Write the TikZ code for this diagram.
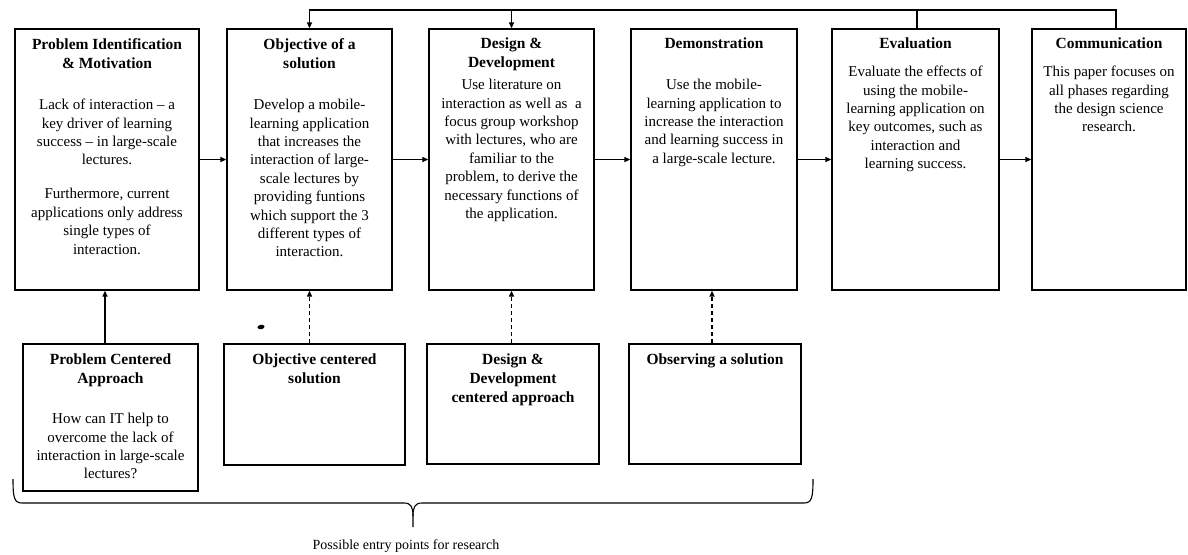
\documentclass[tikz,border=0pt]{standalone}
\usepackage{fontspec}
\setmainfont{Liberation Serif}
\usetikzlibrary{arrows.meta}
\begin{document}
\begin{tikzpicture}[x=1pt,y=-1pt,
  box/.style={draw, line width=1.3pt, inner sep=0pt},
  ttl/.style={anchor=north, inner sep=0pt, align=center, font=\fontsize{15.5}{19}\selectfont\bfseries},
  txt/.style={anchor=north, inner sep=0pt, align=center, font=\fontsize{15}{18.4}\selectfont},
  arr/.style={line width=1.2pt, -{Triangle[length=6pt,width=5pt]}},
  darr/.style={arr, dash pattern=on 4pt off 3pt},
  fbline/.style={line width=2pt},
]
\useasboundingbox (0,0) rectangle (1188,554);

% top boxes
\node[box, minimum width=184pt, minimum height=261pt] (T1) at (107,159.5) {};
\node[box, minimum width=165pt, minimum height=261pt] (T2) at (309.5,159.5) {};
\node[box, minimum width=165pt, minimum height=261pt] (T3) at (511.5,159.5) {};
\node[box, minimum width=166pt, minimum height=261pt] (T4) at (714,159.5) {};
\node[box, minimum width=167pt, minimum height=261pt] (T5) at (915.5,159.5) {};
\node[box, minimum width=154pt, minimum height=261pt] (T6) at (1109,159.5) {};

% bottom boxes
\node[box, minimum width=175pt, minimum height=147pt] (B1) at (110.5,417.5) {};
\node[box, minimum width=181pt, minimum height=121pt] (B2) at (314.5,404.5) {};
\node[box, minimum width=172pt, minimum height=120pt] (B3) at (513,404) {};
\node[box, minimum width=172pt, minimum height=120pt] (B4) at (715,404) {};

% texts top
\node[ttl] (t1h) at (107,38) {Problem Identification\\\& Motivation};
\node[txt] (t1b) at (107,99) {Lack of interaction -- a\\key driver of learning\\success -- in large-scale\\lectures.\\[15.6pt]Furthermore, current\\applications only address\\single types of\\interaction.};
\node[ttl] (t2h) at (309.5,38) {Objective of a\\solution};
\node[txt] (t2b) at (309.5,99) {Develop a mobile-\\learning application\\that increases the\\interaction of large-\\scale lectures by\\providing funtions\\which support the 3\\different types of\\interaction.};
\node[ttl] (t3h) at (511.5,38) {Design \&\\Development};
\node[txt] (t3b) at (511.5,79) {Use literature on\\interaction as well as~ a\\focus group workshop\\with lectures, who are\\familiar to the\\problem, to derive the\\necessary functions of\\the application.};
\node[ttl] (t4h) at (714,38) {Demonstration};
\node[txt] (t4b) at (714,79) {Use the mobile-\\learning application to\\increase the interaction\\and learning success in\\a large-scale lecture.};
\node[ttl] (t5h) at (915.5,38) {Evaluation};
\node[txt] (t5b) at (915.5,66) {Evaluate the effects of\\using the mobile-\\learning application on\\key outcomes, such as\\interaction and\\learning success.};
\node[ttl] (t6h) at (1109,38) {Communication};
\node[txt] (t6b) at (1109,66) {This paper focuses on\\all phases regarding\\the design science\\research.};

% texts bottom
\node[ttl] (b1h) at (110.5,354) {Problem Centered\\Approach};
\node[txt] (b1b) at (110.5,413) {How can IT help to\\overcome the lack of\\interaction in large-scale\\lectures?};
\node[ttl] (b2h) at (314.5,354) {Objective centered\\solution};
\node[ttl] (b3h) at (513,354) {Design \&\\Development\\centered approach};
\node[ttl] (b4h) at (715,354) {Observing a solution};

% horizontal arrows
\draw[arr] (T1.east) -- (T2.west);
\draw[arr] (T2.east) -- (T3.west);
\draw[arr] (T3.east) -- (T4.west);
\draw[arr] (T4.east) -- (T5.west);
\draw[arr] (T5.east) -- (T6.west);

% vertical arrows from bottom boxes
\draw[arr] ([xshift=-5.5pt]B1.north) -- ([xshift=-5.5pt]B1.north |- T1.south);
\draw[darr] (T2.south |- B2.north) -- (T2.south);
\draw[darr] (T3.south |- B3.north) -- (T3.south);
\draw[darr, line width=2.4pt] ([xshift=-2pt]T4.south |- B4.north) -- ([xshift=-2pt]T4.south);

% feedback line
\coordinate (fb) at (0,10);
\draw[fbline, line cap=rect] ([xshift=7pt]T6.north) -- ([xshift=7pt]T6.north |- fb) -- (T2.north |- fb);
\draw[fbline] ([xshift=1.5pt]T5.north) -- ([xshift=1.5pt]T5.north |- fb);
\draw[arr, line width=1.6pt] (T2.north |- fb) -- (T2.north);
\draw[arr, line width=1.6pt] (T3.north |- fb) -- (T3.north);

% stray mark
\fill[rotate around={10:(261,327)}] (261,327) ellipse [x radius=3.6pt, y radius=2.2pt];

% brace
\coordinate (brtip) at (413,527);
\draw[line width=1.1pt] (13,479) .. controls (13,497) and (14,503) .. (22,503) -- (404,503) .. controls (411,503) and (413,507) .. (413,516) -- (brtip);
\draw[line width=1.1pt] (813,479) .. controls (813,497) and (812,503) .. (804,503) -- (422,503) .. controls (415,503) and (413,507) .. (413,516);
\node[inner sep=0pt, font=\fontsize{14}{16}\selectfont] (lbl) at (406,546) {Possible entry points for research};
\end{tikzpicture}
\end{document}
